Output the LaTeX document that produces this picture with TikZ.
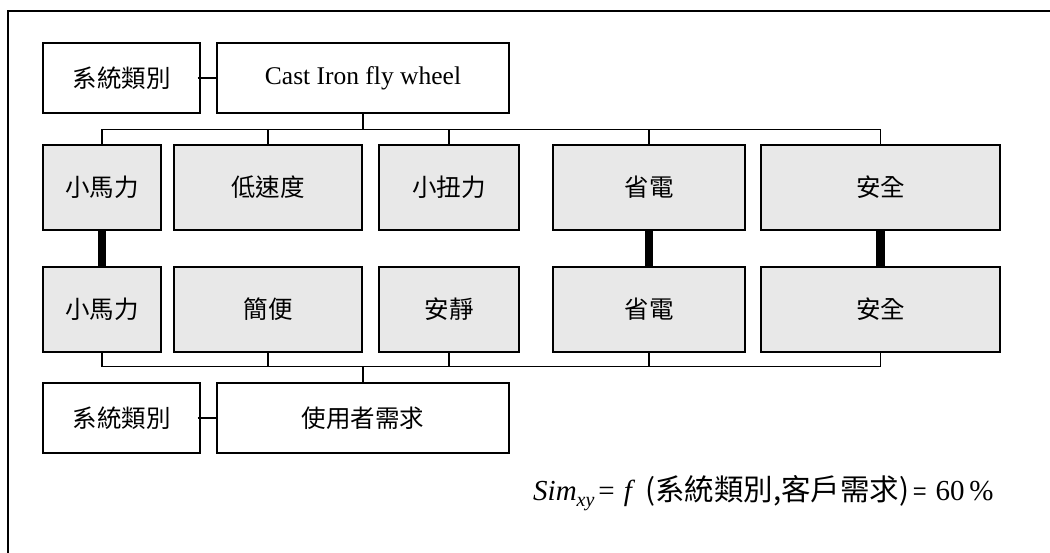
\documentclass[tikz,border=0pt]{standalone}
\usepackage{fontspec}
\setmainfont{Liberation Serif}
\newfontfamily\cjk{Noto Sans CJK TC}
\begin{document}
\begin{tikzpicture}[x=1pt,y=-1pt,
  box/.style={draw=black,line width=1.4pt,minimum height=70pt,inner sep=0pt,font=\cjk\fontsize{24.5}{28}\selectfont},
  gbox/.style={draw=black,line width=1.4pt,fill=gray!18,minimum height=85pt,inner sep=0pt,font=\cjk\fontsize{24.5}{28}\selectfont},
  conn/.style={line width=1.3pt},
  thick conn/.style={line width=8.5pt}]
\useasboundingbox (0,0) rectangle (1050,552);
\clip (0,0) rectangle (1050,552);
\draw[line width=1.6pt] (8,11) rectangle (1070,570);
% top row
\node[box,minimum width=157pt] (sys1) at (121.5,78) {系統類別};
\node[box,minimum width=292pt,font=\fontsize{25.5}{29}\selectfont] (cast) at (363,78) {Cast Iron fly wheel};
% row 1
\node[gbox,minimum width=118pt] (r1a) at (102,187.5) {小馬力};
\node[gbox,minimum width=188pt] (r1b) at (268,187.5) {低速度};
\node[gbox,minimum width=140pt] (r1c) at (449,187.5) {小扭力};
\node[gbox,minimum width=192pt] (r1d) at (649,187.5) {省電};
\node[gbox,minimum width=239pt] (r1e) at (880.5,187.5) {安全};
% row 2
\node[gbox,minimum width=118pt] (r2a) at (102,309.5) {小馬力};
\node[gbox,minimum width=188pt] (r2b) at (268,309.5) {簡便};
\node[gbox,minimum width=140pt] (r2c) at (449,309.5) {安靜};
\node[gbox,minimum width=192pt] (r2d) at (649,309.5) {省電};
\node[gbox,minimum width=239pt] (r2e) at (880.5,309.5) {安全};
% bottom row
\node[box,minimum width=157pt] (sys2) at (121.5,418) {系統類別};
\node[box,minimum width=292pt] (user) at (363,418) {使用者需求};
% side connectors
\draw[conn] ([xshift=-3pt]sys1.east) -- (cast.west);
\draw[conn] ([xshift=-3pt]sys2.east) -- (user.west);
% top bus
\foreach \n in {r1a,r1b,r1c,r1d,r1e}
  \draw[conn] (cast.south) -- ++(0,16) -| (\n.north);
\draw[line width=2pt] (cast.south) -- ++(0,16);
% bottom bus
\foreach \n in {r2a,r2b,r2c,r2d,r2e}
  \draw[conn] (user.north) -- ++(0,-16) -| (\n.south);
\draw[line width=2pt] (user.north) -- ++(0,-16);
% thick links
\draw[thick conn] (r1a.south) -- (r2a.north);
\draw[thick conn] (r1d.south) -- (r2d.north);
\draw[thick conn] (r1e.south) -- (r2e.north);
% formula
\node[anchor=base west,inner sep=0pt,font=\fontsize{29}{33}\selectfont] (formula) at (533,500)
  {\textit{Sim}\raisebox{-6pt}{\fontsize{20}{23}\selectfont\textit{xy}}\hspace{4pt}=\hspace{9pt}\textit{f}\hspace{10pt}{\cjk\fontsize{29.5}{33}\selectfont(系統類別,客戶需求)}\hspace{4pt}{\cjk\fontsize{24}{28}\selectfont=}\hspace{9pt}60\,\%};
\end{tikzpicture}
\end{document}
